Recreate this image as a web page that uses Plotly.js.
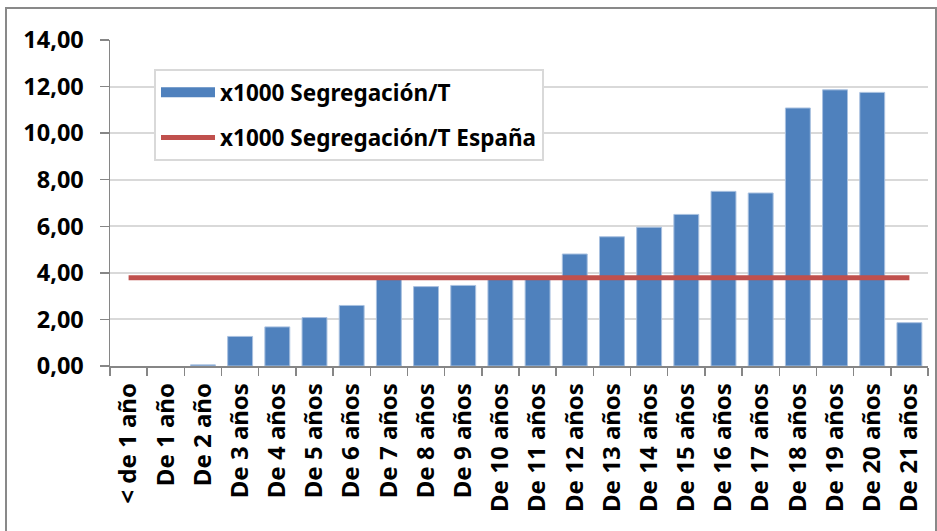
<!DOCTYPE html>
<html>
<head>
<meta charset="utf-8">
<script src="https://cdn.plot.ly/plotly-3.0.1.min.js"></script>
<style>
html,body{margin:0;padding:0;background:#fff;}
#chart{width:937px;height:531px;}
</style>
</head>
<body>
<div id="chart"></div>
<script>
const categories = ["< de 1 año","De 1 año","De 2 año","De 3 años","De 4 años","De 5 años","De 6 años","De 7 años","De 8 años","De 9 años","De 10 años","De 11 años","De 12 años","De 13 años","De 14 años","De 15 años","De 16 años","De 17 años","De 18 años","De 19 años","De 20 años","De 21 años"];
const segregacion = [0, 0, 0.05, 1.27, 1.68, 2.08, 2.60, 3.82, 3.41, 3.46, 3.84, 3.83, 4.81, 5.55, 5.96, 6.51, 7.50, 7.43, 11.08, 11.86, 11.75, 1.86];
const espana = [3.79, 3.79, 3.79, 3.79, 3.79, 3.79, 3.79, 3.79, 3.79, 3.79, 3.79, 3.79, 3.79, 3.79, 3.79, 3.79, 3.79, 3.79, 3.79, 3.79, 3.79, 3.79];
const seriesNames = ["x1000 Segregación/T", "x1000 Segregación/T España"];
const yTicks = [0, 2, 4, 6, 8, 10, 12, 14];

const FONT = "Noto Sans, DejaVu Sans, sans-serif";
const BLUE = "#4f81bd", RED = "#c0504d";

const traces = [
  {
    type: "bar",
    x: categories,
    y: segregacion,
    name: seriesNames[0],
    showlegend: false,
    marker: {color: BLUE, line: {color: "#a9c1e0", width: segregacion.map(v => v > 0 ? 1 : 0)}},
    hoverinfo: "x+y"
  },
  {
    // legend entry for the bars (wide swatch, as in the original)
    type: "scatter",
    mode: "lines",
    x: [null],
    y: [null],
    name: seriesNames[0],
    legendgroup: "a",
    line: {color: BLUE, width: 14},
    hoverinfo: "skip"
  },
  {
    type: "scatter",
    mode: "lines",
    x: categories,
    y: espana,
    name: seriesNames[1],
    legendgroup: "b",
    line: {color: RED, width: 5},
    hoverinfo: "x+y"
  }
];

const L = 110, R = 9, T = 40, B = 165, W = 937, H = 531;
const pw = W - L - R, ph = H - T - B;
const px = v => (v - L) / pw;
const py = v => (H - B - v) / ph;

const layout = {
  width: W,
  height: H,
  margin: {l: L, r: R, t: T, b: B, pad: 0},
  paper_bgcolor: "#ffffff",
  plot_bgcolor: "#ffffff",
  separators: ",.",
  font: {family: FONT, size: 22, color: "#000000", weight: "bold"},
  bargap: 0.33,
  showlegend: true,
  legend: {
    x: px(154), y: py(69), xanchor: "left", yanchor: "top",
    bgcolor: "#ffffff", bordercolor: "#d9d9d9", borderwidth: 2,
    font: {family: FONT, size: 22.5, color: "#000000", weight: "bold"},
    traceorder: "grouped", tracegroupgap: 13, itemwidth: 54
  },
  xaxis: {
    type: "category",
    range: [-0.5, categories.length - 0.5],
    tickangle: -90,
    ticks: "outside", ticklen: 8, tickwidth: 1.5, tickcolor: "#868686",
    tickson: "boundaries",
    ticklabelstandoff: 6,
    showline: true, linecolor: "#868686", linewidth: 1.5,
    showgrid: false,
    tickfont: {family: FONT, size: 24, color: "#000000", weight: "bold"},
    fixedrange: true
  },
  yaxis: {
    range: [0, 14],
    tickvals: yTicks,
    tickformat: ".2f",
    ticks: "outside", ticklen: 9, tickwidth: 1.5, tickcolor: "#868686",
    ticklabelstandoff: 11,
    showline: true, linecolor: "#868686", linewidth: 1.5,
    showgrid: true, gridcolor: "#d9d9d9", gridwidth: 2,
    zeroline: false,
    tickfont: {family: FONT, size: 23.5, color: "#000000", weight: "bold"},
    fixedrange: true
  },
  shapes: [
    {type: "rect", xref: "paper", yref: "paper",
     x0: px(6), x1: px(936), y0: py(560), y1: py(8),
     line: {color: "#898989", width: 2}, fillcolor: "rgba(0,0,0,0)", layer: "below"}
  ]
};

Plotly.newPlot("chart", traces, layout, {displayModeBar: false, staticPlot: true});
</script>
</body>
</html>
